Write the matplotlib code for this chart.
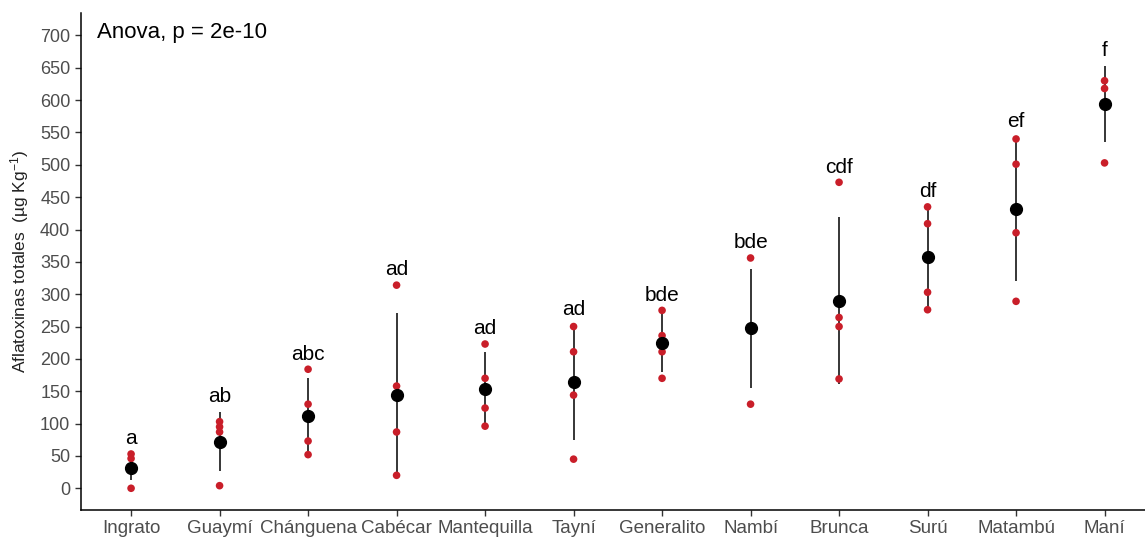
import numpy as np
import matplotlib
matplotlib.use('Agg')
import matplotlib.pyplot as plt

plt.rcParams['font.family'] = ['Liberation Sans', 'DejaVu Sans']
plt.rcParams['mathtext.fontset'] = 'custom'
plt.rcParams['mathtext.rm'] = 'Liberation Sans'
plt.rcParams['mathtext.it'] = 'Liberation Sans'

# Variedades (eje x)
variedades = ['Ingrato', 'Guaymí', 'Chánguena', 'Cabécar', 'Mantequilla', 'Tayní',
              'Generalito', 'Nambí', 'Brunca', 'Surú', 'Matambú', 'Maní']

# Observaciones individuales (puntos rojos)
observaciones = [
    [53, 46, 0],
    [103, 95, 87, 4],
    [184, 130, 73, 52],
    [314, 158, 87, 20],
    [223, 170, 124, 96],
    [250, 211, 144, 45],
    [275, 236, 211, 170],
    [356, 130],
    [473, 264, 250, 169],
    [435, 409, 303, 276],
    [540, 501, 395, 289],
    [630, 618, 503],
]

# Media y desviación estándar (punto negro y barra)
medias = [31, 72, 111, 144, 154, 164, 224, 247, 290, 357, 432, 594]
desv = [18, 46, 59, 127, 56, 89, 45, 92, 129, 78, 111, 59]

# Letras de Tukey
letras = ['a', 'ab', 'abc', 'ad', 'ad', 'ad', 'bde', 'bde', 'cdf', 'df', 'ef', 'f']

fig = plt.figure(figsize=(11.45, 5.41), dpi=100)
ax = fig.add_axes([0.0705, 0.0573, 0.9295, 0.919])

x = np.arange(len(variedades))
medias = np.array(medias)
desv = np.array(desv)

# barras media +/- sd
ax.vlines(x, medias - desv, medias + desv, color='black', linewidth=1.1, zorder=2)

# puntos individuales
for i, obs in enumerate(observaciones):
    ax.scatter([x[i]] * len(obs), obs, s=30, color='#C91E29', edgecolors='none', zorder=3)

# medias
ax.plot(x, medias, linestyle='none', marker='o', markersize=8.5, color='black', zorder=4)

# letras encima del maximo
for i, letra in enumerate(letras):
    tope = max(max(observaciones[i]), medias[i] + desv[i])
    ax.annotate(letra, (x[i], tope), xytext=(0, 7), textcoords='offset points',
                ha='center', va='baseline', fontsize=15, color='black')

ax.text(0.0153, 0.96, 'Anova, p = 2e-10', transform=ax.transAxes,
        ha='left', va='center', fontsize=16, color='black')

ax.set_xlim(-0.569, 11.457)
ax.set_ylim(-33.6, 735)
ax.set_xticks(x)
ax.set_xticklabels(variedades)
ax.set_yticks(np.arange(0, 701, 50))

ax.set_ylabel('Aflatoxinas totales  (µg Kg$^{-1}$)', fontsize=12.5, color='#222222')
ax.yaxis.set_label_coords(-0.047, 0.5)

for s in ['top', 'right']:
    ax.spines[s].set_visible(False)
for s in ['left', 'bottom']:
    ax.spines[s].set_linewidth(1.1)
ax.tick_params(axis='both', length=4, width=1, color='#333333', labelcolor='#4D4D4D', labelsize=13)
ax.tick_params(axis='x', labelsize=13.5, pad=3)

fig.savefig('out.png', dpi=100)
